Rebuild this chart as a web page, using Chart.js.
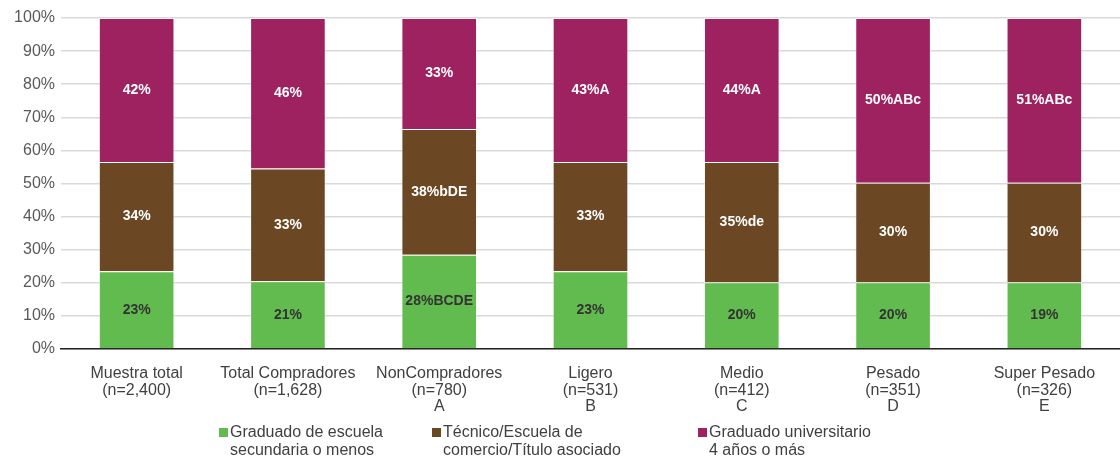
<!DOCTYPE html>
<html>
<head>
<meta charset="utf-8">
<script src="https://cdn.jsdelivr.net/npm/chart.js@4/dist/chart.umd.min.js"></script>
<style>
  body { margin: 0; background: #fff; font-family: "Liberation Sans", Arial, sans-serif; }
  #wrap { position: relative; width: 1120px; height: 459px; }
  .legend { position: absolute; top: 423px; font-size: 16px; color: #404040; line-height: 18px; }
  .legend span.box { position: absolute; left: -11px; top: 5px; width: 9px; height: 9px; }
</style>
</head>
<body>
<div id="wrap">
  <canvas id="bar"></canvas>
  <div class="legend" style="left:230px"><span class="box" style="background:#62BB4E"></span>Graduado de escuela<br>secundaria o menos</div>
  <div class="legend" style="left:443px"><span class="box" style="background:#6B4723"></span>Técnico/Escuela de<br>comercio/Título asociado</div>
  <div class="legend" style="left:709px"><span class="box" style="background:#9E2160"></span>Graduado universitario<br>4 años o más</div>
</div>
<script>
const categories = [
    ['Muestra total', '(n=2,400)'],
    ['Total Compradores', '(n=1,628)'],
    ['NonCompradores', '(n=780)', 'A'],
    ['Ligero', '(n=531)', 'B'],
    ['Medio', '(n=412)', 'C'],
    ['Pesado', '(n=351)', 'D'],
    ['Super Pesado', '(n=326)', 'E']
];
const seriesNames = ['Graduado de escuela secundaria o menos', 'Técnico/Escuela de comercio/Título asociado', 'Graduado universitario 4 años o más'];
const colours = ['#62BB4E', '#6B4723', '#9E2160'];
const labelColours = ['#333333', '#ffffff', '#ffffff'];

// segment heights as drawn
const secundaria = [23.5, 20.5, 28.5, 23.5, 20.2, 20.2, 20.2];
const tecnico = [33, 34, 38, 33, 36.3, 30, 30];
const universitario = [43.5, 45.5, 33.5, 43.5, 43.5, 49.8, 49.8];

// printed labels
const secundariaLabels = ['23%', '21%', '28%BCDE', '23%', '20%', '20%', '19%'];
const tecnicoLabels = ['34%', '33%', '38%bDE', '33%', '35%de', '30%', '30%'];
const universitarioLabels = ['42%', '46%', '33%', '43%A', '44%A', '50%ABc', '51%ABc'];

const yTicks = [0, 10, 20, 30, 40, 50, 60, 70, 80, 90, 100];

const values = [secundaria, tecnico, universitario];
const texts = [secundariaLabels, tecnicoLabels, universitarioLabels];

const segmentLabels = {
    id: 'segmentLabels',
    afterDatasetsDraw(chart) {
        const ctx = chart.ctx;
        ctx.save();
        ctx.font = 'bold 14px "Liberation Sans", Arial, sans-serif';
        ctx.textAlign = 'center';
        ctx.textBaseline = 'middle';
        chart.data.datasets.forEach((ds, i) => {
            const meta = chart.getDatasetMeta(i);
            meta.data.forEach((bar, j) => {
                ctx.fillStyle = labelColours[i];
                ctx.fillText(texts[i][j], bar.x, (bar.y + bar.base) / 2);
            });
        });
        ctx.restore();
    }
};

function chart() {
    const ctx = document.getElementById('bar');
    ctx.width = 1120;
    ctx.height = 459;

    const data = {
        labels: categories,
        datasets: values.map((v, i) => ({
            label: seriesNames[i],
            data: v,
            backgroundColor: colours[i],
            borderColor: 'rgba(255,255,255,0.35)',
            borderWidth: 1,
            barPercentage: 0.5,
            categoryPercentage: 1
        }))
    };

    new Chart(ctx, {
        type: 'bar',
        data: data,
        options: {
            responsive: false,
            animation: false,
            layout: { padding: { top: 18, right: 0, left: 0, bottom: 0 } },
            plugins: { legend: { display: false }, tooltip: { enabled: false } },
            scales: {
                x: {
                    stacked: true,
                    grid: { display: false },
                    border: { color: '#222', width: 1.5 },
                    ticks: {
                        color: '#404040',
                        font: { size: 16, lineHeight: 1.05, family: '"Liberation Sans", Arial, sans-serif' },
                        padding: 8,
                        maxRotation: 0,
                        autoSkip: false
                    },
                    afterFit(scale) { scale.height = 110; }
                },
                y: {
                    stacked: true,
                    min: 0,
                    max: 100,
                    afterBuildTicks(scale) { scale.ticks = yTicks.map(v => ({ value: v })); },
                    grid: { color: '#d9d9d9', lineWidth: 1.5, drawTicks: false },
                    border: { display: false },
                    ticks: {
                        color: '#595959',
                        font: { size: 16, family: '"Liberation Sans", Arial, sans-serif' },
                        padding: 6,
                        callback: v => v + '%'
                    },
                    afterFit(scale) { scale.width = 61; }
                }
            }
        },
        plugins: [segmentLabels]
    });
}

chart();
</script>
</body>
</html>
